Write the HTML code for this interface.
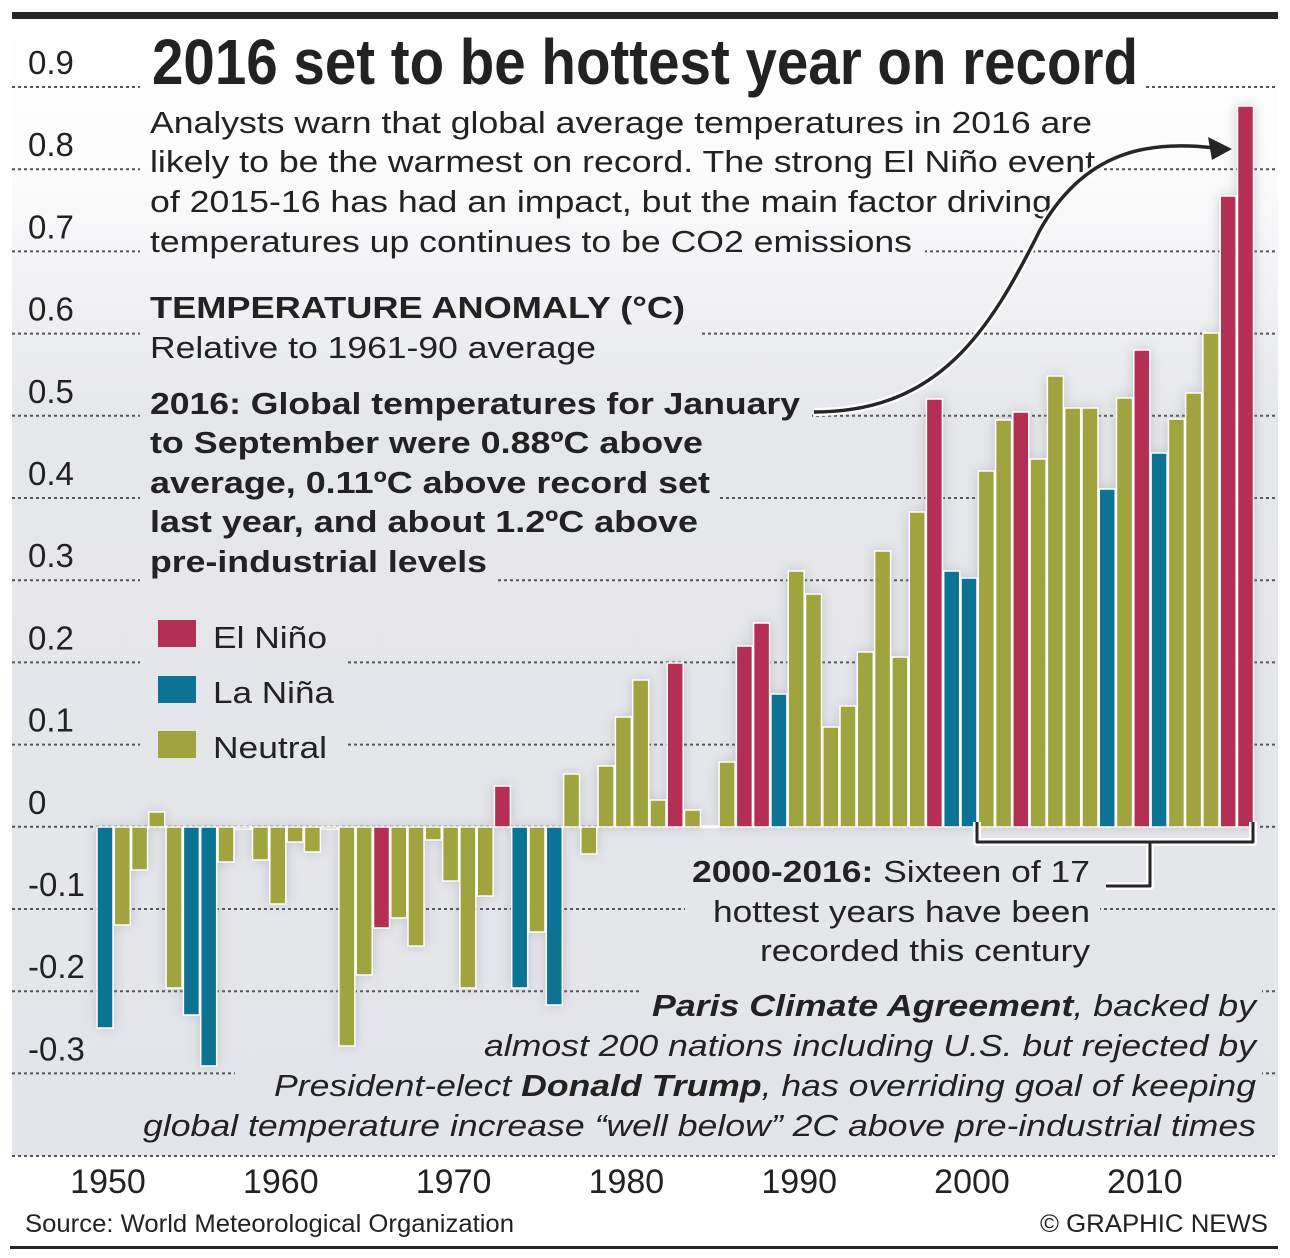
<!DOCTYPE html>
<html><head><meta charset="utf-8"><style>
html,body{margin:0;padding:0;background:#fff}
svg{display:block}
text{font-family:"Liberation Sans",Arial,sans-serif;fill:#222}
</style></head><body>
<svg id="s" width="1290" height="1258" viewBox="0 0 1290 1258" xmlns="http://www.w3.org/2000/svg">
<defs>
<linearGradient id="bg" gradientUnits="userSpaceOnUse" x1="0" y1="19" x2="0" y2="1156">
<stop offset="0" stop-color="#ffffff"/><stop offset="0.14" stop-color="#fbfbfc"/><stop offset="0.35" stop-color="#e6e7eb"/><stop offset="1" stop-color="#e4e5ea"/>
</linearGradient>
<filter id="sh" x="-50%" y="-10%" width="200%" height="120%"><feGaussianBlur stdDeviation="6"/></filter>
</defs>
<rect x="0" y="0" width="1290" height="1258" fill="#fff"/>
<rect x="12" y="19" width="1266" height="1137" fill="url(#bg)"/>
<rect x="12" y="12" width="1266" height="7" fill="#262626"/>
<g id="grid" stroke="#555" stroke-width="2" stroke-dasharray="3,3"></g>
<g fill="url(#bg)">
<rect x="140" y="80" width="1005" height="14"/>
<rect x="140" y="163" width="960" height="14"/>
<rect x="140" y="245" width="785" height="14"/>
<rect x="140" y="327" width="560" height="14"/>
<rect x="140" y="409" width="672" height="14"/>
<rect x="140" y="491" width="580" height="14"/>
<rect x="140" y="573" width="355" height="14"/>
<rect x="140" y="655" width="205" height="14"/>
<rect x="140" y="738" width="205" height="14"/>
<rect x="685" y="902" width="415" height="14"/>
<rect x="640" y="984" width="622" height="14"/>
<rect x="235" y="1066" width="1027" height="14"/>
</g>
<g id="shadow" filter="url(#sh)" fill="#9a9ca4" opacity="0.55"></g>
<g id="bars" stroke="#fff" stroke-width="1.5"></g>
<g id="ylab" font-size="33"></g>
<line x1="12" y1="1156" x2="1278" y2="1156" stroke="#555" stroke-width="2" stroke-dasharray="3,3"/>
<g id="xlab" font-size="34" fill="#7a7a7a" text-anchor="middle"></g>

<text x="152" y="84" font-size="64" font-weight="bold" textLength="986" lengthAdjust="spacingAndGlyphs">2016 set to be hottest year on record</text>
<g font-size="31">
<text x="150" y="133" textLength="942" lengthAdjust="spacingAndGlyphs">Analysts warn that global average temperatures in 2016 are</text>
<text x="150" y="172" textLength="945" lengthAdjust="spacingAndGlyphs">likely to be the warmest on record. The strong El Niño event</text>
<text x="150" y="212" textLength="902" lengthAdjust="spacingAndGlyphs">of 2015-16 has had an impact, but the main factor driving</text>
<text x="150" y="252" textLength="762" lengthAdjust="spacingAndGlyphs">temperatures up continues to be CO2 emissions</text>
<text x="150" y="318" font-weight="bold" textLength="535" lengthAdjust="spacingAndGlyphs">TEMPERATURE ANOMALY (°C)</text>
<text x="150" y="358" textLength="446" lengthAdjust="spacingAndGlyphs">Relative to 1961-90 average</text>
<g font-weight="bold">
<text x="150" y="414" textLength="650" lengthAdjust="spacingAndGlyphs">2016: Global temperatures for January</text>
<text x="150" y="453" textLength="553" lengthAdjust="spacingAndGlyphs">to September were 0.88ºC above</text>
<text x="150" y="493" textLength="560" lengthAdjust="spacingAndGlyphs">average, 0.11ºC above record set</text>
<text x="150" y="532" textLength="548" lengthAdjust="spacingAndGlyphs">last year, and about 1.2ºC above</text>
<text x="150" y="572" textLength="337" lengthAdjust="spacingAndGlyphs">pre-industrial levels</text>
</g>
<rect x="158" y="620" width="38" height="27" fill="#b32f53"/>
<rect x="158" y="676" width="38" height="27" fill="#0c7394"/>
<rect x="158" y="731" width="38" height="27" fill="#a0a43f"/>
<text x="213" y="648" textLength="114" lengthAdjust="spacingAndGlyphs">El Niño</text>
<text x="213" y="703" textLength="121" lengthAdjust="spacingAndGlyphs">La Niña</text>
<text x="213" y="758" textLength="114" lengthAdjust="spacingAndGlyphs">Neutral</text>
<text x="692" y="882" textLength="398" lengthAdjust="spacingAndGlyphs"><tspan font-weight="bold">2000-2016:</tspan> Sixteen of 17</text>
<text x="713" y="922" textLength="377" lengthAdjust="spacingAndGlyphs">hottest years have been</text>
<text x="760" y="961" textLength="330" lengthAdjust="spacingAndGlyphs">recorded this century</text>
<g font-style="italic">
<text x="652" y="1016" textLength="604" lengthAdjust="spacingAndGlyphs"><tspan font-weight="bold">Paris Climate Agreement</tspan>, backed by</text>
<text x="484" y="1056" textLength="772" lengthAdjust="spacingAndGlyphs">almost 200 nations including U.S. but rejected by</text>
<text x="274" y="1096" textLength="982" lengthAdjust="spacingAndGlyphs">President-elect <tspan font-weight="bold">Donald Trump</tspan>, has overriding goal of keeping</text>
<text x="143" y="1136" textLength="1113" lengthAdjust="spacingAndGlyphs">global temperature increase “well below” 2C above pre-industrial times</text>
</g>
</g>
<g fill="none" stroke-linejoin="round">
<path d="M977 822 V842 H1253 V822 M1150 842 V886 H1106" stroke="#fff" stroke-width="8"/>
<path d="M977 822 V842 H1253 V822 M1150 842 V886 H1106" stroke="#262626" stroke-width="3"/>
<path d="M814 412 C 940 412, 990 330, 1040 230 C 1085 150, 1150 140, 1215 148" stroke="#fff" stroke-width="8"/>
<path d="M814 412 C 940 412, 990 330, 1040 230 C 1085 150, 1150 140, 1215 148" stroke="#262626" stroke-width="3.5"/>
</g>
<path d="M1232 149 L1208 137 L1212 160 Z" fill="#262626"/>
<text x="25" y="1232" font-size="25" textLength="489" lengthAdjust="spacingAndGlyphs">Source: World Meteorological Organization</text>
<text x="1040" y="1232" font-size="25" textLength="228" lengthAdjust="spacingAndGlyphs">© GRAPHIC NEWS</text>
<rect x="10" y="1246" width="1268" height="3" fill="#262626"/>
</svg>
<script>
var NS="http://www.w3.org/2000/svg";
function el(p,t,a){var e=document.createElementNS(NS,t);for(var k in a)e.setAttribute(k,a[k]);var g=document.getElementById(p);g.appendChild(e);return e;}
var Z=827,S=82.2;
var labs=["0.9","0.8","0.7","0.6","0.5","0.4","0.3","0.2","0.1","0","-0.1","-0.2","-0.3"];
for(var i=0;i<13;i++){var y=87+i*S;el("grid","line",{x1:12,y1:y.toFixed(1),x2:1278,y2:y.toFixed(1)});
var t=el("ylab","text",{x:28,y:(y-13).toFixed(1)});t.textContent=labs[i];}
for(var d=0;d<7;d++){var t=el("xlab","text",{x:108+d*172.8,y:1193});t.textContent=1950+d*10;}
var D=[[1028,'L'],[925,'N'],[870,'N'],[812,'N'],[988,'N'],[1015,'L'],[1066,'L'],[862,'N'],[829,'N'],[860,'N'],
[904,'N'],[842,'N'],[852,'N'],[829,'N'],[1046,'N'],[975,'N'],[928,'E'],[918,'N'],[946,'N'],[840,'N'],
[881,'N'],[988,'N'],[896,'N'],[786,'E'],[988,'L'],[932,'N'],[1005,'L'],[774,'N'],[854,'N'],[766,'N'],
[717,'N'],[680,'N'],[800,'N'],[663,'E'],[810,'N'],[826,'N'],[762,'N'],[646,'E'],[623,'E'],[694,'L'],
[571,'N'],[594,'N'],[727,'N'],[706,'N'],[652,'N'],[551,'N'],[657,'N'],[512,'N'],[399,'E'],[571,'L'],
[578,'L'],[471,'N'],[420,'N'],[412,'E'],[459,'N'],[376,'N'],[408,'N'],[408,'N'],[489,'L'],[398,'N'],
[350,'E'],[453,'L'],[419,'N'],[393,'N'],[333,'N'],[196,'E'],[106,'E']];
var C={E:"#b32f53",L:"#0c7394",N:"#a0a43f"};
for(var i=0;i<D.length;i++){var cx=105+i*17.28,v=D[i][0];var y0=Math.min(v,Z),h=Math.abs(v-Z);if(h<1.5)h=1.5;
el("shadow","rect",{x:(cx-8).toFixed(1),y:y0,width:16,height:h});
el("bars","rect",{x:(cx-8).toFixed(1),y:y0,width:16,height:h,fill:C[D[i][1]]});}
</script>
</body></html>
